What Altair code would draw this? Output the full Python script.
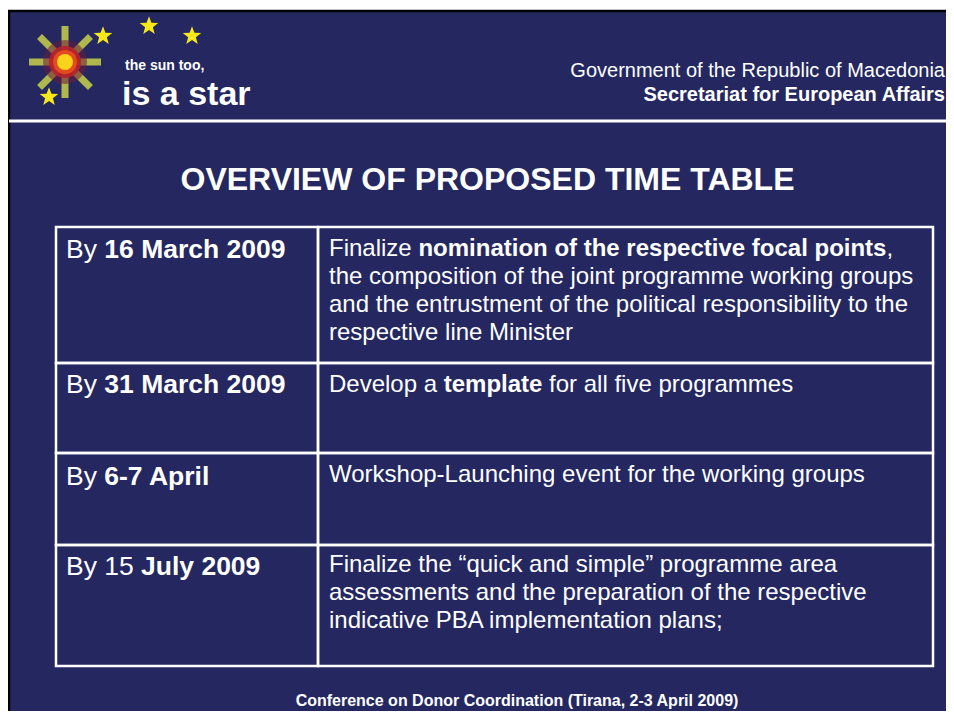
import altair as alt
import pandas as pd
import math

# ---------------- content ----------------
header_lines = ["Government of the Republic of Macedonia", "Secretariat for European Affairs"]
title_text = "OVERVIEW OF PROPOSED TIME TABLE"
footer_text = "Conference on Donor Coordination (Tirana, 2-3 April 2009)"
logo_lines = ["the sun too,", "is a star"]

deadline_plain = ["By ", "By ", "By ", "By 15"]
deadline_bold = ["16 March 2009", "31 March 2009", "6-7 April", "July 2009"]

task_row1 = ["Finalize ", "nomination of the respective focal points", ",",
             "the composition of the joint programme working groups",
             "and the entrustment of the political responsibility to the",
             "respective line Minister"]
task_row2 = ["Develop a ", "template", "for all five programmes"]
task_row3 = ["Workshop-Launching event for the working groups"]
task_row4 = ["Finalize  the \u201cquick and simple\u201d programme area",
             "assessments and the preparation of the respective",
             "indicative PBA implementation plans;"]

# ---------------- layout (window pixels) ----------------
NAVY = "#252860"
FONT = "Liberation Sans, Arial, sans-serif"
W, H = 938, 703
row_edges = [227, 363, 453, 545, 666]
col_edges = [56, 318, 933]
left_base = [258, 393, 485, 575]
left_x_plain = [66, 66, 66, 66]
left_x_bold = [104.3, 104.3, 104.3, 141]

XS = alt.Scale(domain=[8, 8 + W], nice=False, zero=False)
YS = alt.Scale(domain=[8, 8 + H], nice=False, zero=False, reverse=True)


def X(f="x"):
    return alt.X(f"{f}:Q", scale=XS, axis=None)


def Y(f="y"):
    return alt.Y(f"{f}:Q", scale=YS, axis=None)


def texts(rows, size, weight="normal", align="left", color="white", font=FONT):
    df = pd.DataFrame(rows, columns=["x", "y", "t"])
    return alt.Chart(df).mark_text(
        align=align, baseline="alphabetic", fontSize=size, fontWeight=weight,
        font=font, color=color
    ).encode(x=X(), y=Y(), text="t:N")


# slide background with black border
bg = alt.Chart(pd.DataFrame([{"x": 9, "x2": 990, "y": 11, "y2": 760}])).mark_rect(
    fill=NAVY, stroke="black", strokeWidth=2.5
).encode(x=X(), x2="x2:Q", y=Y(), y2="y2:Q")

hline = alt.Chart(pd.DataFrame([{"x": 9, "x2": 990, "y": 119.5, "y2": 122.5}])).mark_rect(
    fill="white"
).encode(x=X(), x2="x2:Q", y=Y(), y2="y2:Q")

# sun logo
cx, cy = 65, 62
ray_rows = []
for k in range(8):
    a = math.radians(k * 45)
    ray_rows.append({"x": cx + 8 * math.cos(a), "y": cy + 8 * math.sin(a),
                     "x2": cx + 36 * math.cos(a), "y2": cy + 36 * math.sin(a)})
rays = alt.Chart(pd.DataFrame(ray_rows)).mark_rule(
    color="#d2dc48", strokeWidth=7, opacity=0.8, strokeCap="butt"
).encode(x=X(), y=Y(), x2="x2:Q", y2="y2:Q")

glow_df = pd.DataFrame([
    {"x": cx, "y": cy, "s": 44 * 44, "c": "#6e1a3a"},
    {"x": cx, "y": cy, "s": 32 * 32, "c": "#b8202a"},
    {"x": cx, "y": cy, "s": 24 * 24, "c": "#e8501e"},
    {"x": cx, "y": cy, "s": 16 * 16, "c": "#ffe21a"},
])
glow_layers = []
for i, r in glow_df.iterrows():
    glow_layers.append(
        alt.Chart(pd.DataFrame([r])).mark_point(
            shape="circle", filled=True, size=float(r["s"]), color=r["c"],
            opacity=0.55 if i == 0 else 0.9
        ).encode(x=X(), y=Y())
    )

STAR = ("M0,-1L0.247,-0.34L0.951,-0.309L0.399,0.13L0.588,0.809L0,0.42"
        "L-0.588,0.809L-0.399,0.13L-0.951,-0.309L-0.247,-0.34Z")
stars = alt.Chart(pd.DataFrame({"x": [103, 149, 192, 49], "y": [36, 26, 36, 97]})).mark_point(
    shape=STAR, filled=True, size=380, color="#f7e81a", opacity=1
).encode(x=X(), y=Y())

logo_small = texts([(125, 70, logo_lines[0])], 14, "bold")
logo_big = texts([(122, 105, logo_lines[1])], 34, "bold")

header1 = texts([(945, 77, header_lines[0])], 20, "normal", align="right")
header2 = texts([(945, 101, header_lines[1])], 20, "bold", align="right")

title = texts([(487.5, 190, title_text)], 32, "bold", align="center")

# table
cell_rows = []
for r in range(4):
    for c in range(2):
        cell_rows.append({"x": col_edges[c], "x2": col_edges[c + 1],
                          "y": row_edges[r], "y2": row_edges[r + 1]})
cells = alt.Chart(pd.DataFrame(cell_rows)).mark_rect(
    filled=False, stroke="white", strokeWidth=2.5
).encode(x=X(), x2="x2:Q", y=Y(), y2="y2:Q")

left_plain = texts([(left_x_plain[i], left_base[i], deadline_plain[i]) for i in range(4)], 26.5)
left_bold = texts([(left_x_bold[i], left_base[i], deadline_bold[i]) for i in range(4)], 26.5, "bold")

RX = 329
right_plain = texts([
    (RX, 256, task_row1[0]), (886.5, 256, task_row1[2]),
    (RX, 284, task_row1[3]), (RX, 312, task_row1[4]), (RX, 340, task_row1[5]),
    (RX, 392, task_row2[0]), (549.1, 392, task_row2[2]),
    (RX, 482, task_row3[0]),
    (RX, 572, task_row4[0]), (RX, 600, task_row4[1]), (RX, 628, task_row4[2]),
], 24)
right_bold = texts([
    (418.4, 256, task_row1[1]),
    (443.7, 392, task_row2[1]),
], 24, "bold")

footer = texts([(517, 706, footer_text)], 16, "bold", align="center")

chart = alt.layer(
    bg, hline, rays, *glow_layers, stars, logo_small, logo_big,
    header1, header2, title, cells, left_plain, left_bold, right_plain, right_bold, footer
).properties(
    width=W, height=H, padding=0,
    autosize=alt.AutoSizeParams(type="none"),
    background="white",
).configure_view(stroke=None)

chart.save("out.html", embed_options={"renderer": "svg", "actions": False})
